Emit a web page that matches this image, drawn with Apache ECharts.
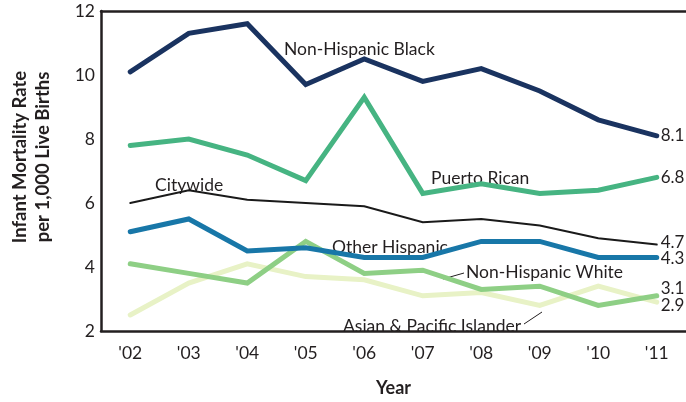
<!DOCTYPE html>
<html>
<head>
<meta charset="utf-8">
<script src="https://cdn.jsdelivr.net/npm/echarts@6/dist/echarts.min.js"></script>
<style>html,body{margin:0;padding:0;background:#fff}#c{width:686px;height:402px}</style>
</head>
<body>
<div id="c"></div>
<script>
const years = ["'02","'03","'04","'05","'06","'07","'08","'09","'10","'11"];
const nhBlack   = [10.1, 11.3, 11.6, 9.7, 10.5, 9.8, 10.2, 9.5, 8.6, 8.1];
const puerto    = [7.8, 8.0, 7.5, 6.7, 9.3, 6.3, 6.6, 6.3, 6.4, 6.8];
const citywide  = [6.0, 6.4, 6.1, 6.0, 5.9, 5.4, 5.5, 5.3, 4.9, 4.7];
const otherHisp = [5.1, 5.5, 4.5, 4.6, 4.3, 4.3, 4.8, 4.8, 4.3, 4.3];
const nhWhite   = [4.1, 3.8, 3.5, 4.8, 3.8, 3.9, 3.3, 3.4, 2.8, 3.1];
const asianPI   = [2.5, 3.5, 4.1, 3.7, 3.6, 3.1, 3.2, 2.8, 3.4, 2.9];
const yTicks = [2, 4, 6, 8, 10, 12];

const FONT = 'Lato';
const TXT = '#231f20';
const LBL = '17.5px Lato';
const chart = echarts.init(document.getElementById('c'));

function mk(name, data, color, width, offY, z) {
  return {
    name, type: 'line', data, z,
    symbol: 'none', smooth: false,
    lineStyle: { color, width, cap: 'round', join: 'miter' },
    endLabel: {
      show: true, distance: 4, offset: [0, offY || 0],
      color: TXT, fontFamily: FONT, fontSize: 17,
      formatter: p => Number(p.value).toFixed(1)
    },
    animation: false
  };
}

chart.setOption({
  animation: false,
  grid: { left: 101, right: 0, top: 11, bottom: 66 },
  xAxis: [{
    type: 'category', data: years, boundaryGap: true,
    axisLine: { lineStyle: { color: TXT, width: 2.5 } },
    axisTick: { show: false },
    axisLabel: { color: TXT, fontFamily: FONT, fontSize: 17.5, margin: 13 },
    name: 'Year', nameLocation: 'middle', nameGap: 48,
    nameTextStyle: { color: TXT, fontFamily: FONT, fontSize: 18, fontWeight: 'bold' }
  }, {
    type: 'category', data: years, position: 'top',
    axisLine: { lineStyle: { color: TXT, width: 2.5 } },
    axisTick: { show: false }, axisLabel: { show: false }
  }],
  yAxis: {
    type: 'value', min: yTicks[0], max: yTicks[yTicks.length - 1], interval: 2,
    splitLine: { show: false },
    axisLine: { show: true, lineStyle: { color: TXT, width: 2.5 } },
    axisTick: { show: false },
    axisLabel: { color: TXT, fontFamily: FONT, fontSize: 17.5, margin: 6 }
  },
  series: [
    mk('Asian & Pacific Islander', asianPI, '#e8f2c6', 5, 3, 2),
    mk('Non-Hispanic White', nhWhite, '#8ecf85', 5, -7, 3),
    mk('Other Hispanic', otherHisp, '#1877a8', 5, 1, 4),
    mk('Citywide', citywide, '#1a1a1a', 2, -2, 5),
    mk('Puerto Rican', puerto, '#46b482', 5, 0, 6),
    mk('Non-Hispanic Black', nhBlack, '#1a3360', 5, 0, 7)
  ],
  graphic: [
    { type: 'text', x: 32, y: 157, rotation: Math.PI / 2,
      style: { text: 'Infant Mortality Rate\nper 1,000 Live Births', fill: TXT,
        font: 'bold 18.5px Lato', align: 'center', verticalAlign: 'middle', lineHeight: 23 } },
    { type: 'text', x: 284, y: 49, style: { text: 'Non-Hispanic Black', fill: TXT, font: LBL, verticalAlign: 'middle' } },
    { type: 'text', x: 431, y: 178, style: { text: 'Puerto Rican', fill: TXT, font: LBL, verticalAlign: 'middle' } },
    { type: 'text', x: 155, y: 185, style: { text: 'Citywide', fill: TXT, font: LBL, verticalAlign: 'middle' } },
    { type: 'text', x: 332, y: 247, style: { text: 'Other Hispanic', fill: TXT, font: LBL, verticalAlign: 'middle' } },
    { type: 'text', x: 466, y: 272, style: { text: 'Non-Hispanic White', fill: TXT, font: LBL, verticalAlign: 'middle' } },
    { type: 'text', x: 343, y: 326, style: { text: 'Asian & Pacific Islander', fill: TXT, font: LBL, verticalAlign: 'middle' } },
    { type: 'line', shape: { x1: 443, y1: 279, x2: 464, y2: 273 }, style: { stroke: TXT, lineWidth: 1 } },
    { type: 'line', shape: { x1: 524, y1: 324, x2: 542, y2: 312 }, style: { stroke: TXT, lineWidth: 1 } }
  ]
});
</script>
</body>
</html>
